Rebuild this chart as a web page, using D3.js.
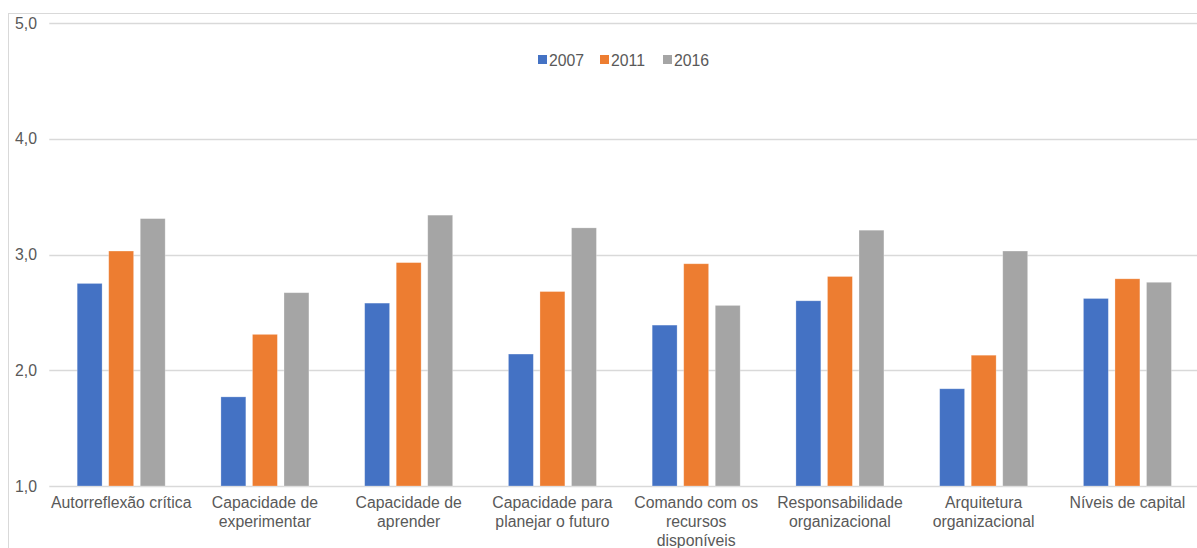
<!DOCTYPE html>
<html><head><meta charset="utf-8">
<script src="https://cdn.jsdelivr.net/npm/d3@7"></script>
<style>
html,body{margin:0;padding:0;background:#fff;overflow:hidden;}
text{font-family:"Liberation Sans",Arial,sans-serif;}
</style></head>
<body>
<svg id="chart" width="1197" height="548"></svg>
<script>
const categories = ["Autorreflexão crítica","Capacidade de experimentar","Capacidade de aprender","Capacidade para planejar o futuro","Comando com os recursos disponíveis","Responsabilidade organizacional","Arquitetura organizacional","Níveis de capital"];
const seriesNames = ["2007","2011","2016"];
const values2007 = [2.75,1.77,2.58,2.14,2.39,2.60,1.84,2.62];
const values2011 = [3.03,2.31,2.93,2.68,2.92,2.81,2.13,2.79];
const values2016 = [3.31,2.67,3.34,3.23,2.56,3.21,3.03,2.76];
const yTicks = [1,2,3,4,5];
const colors = ["#4472C4","#ED7D31","#A5A5A5"];

const series = [values2007, values2011, values2016];
const svg = d3.select("#chart");
const W = 1197, H = 548;
const plotLeft = 49.3, plotRight = 1199.3, plotTop = 23, plotBottom = 486;
const fontSize = "15.8px";

// chart border
svg.append("rect").attr("x",8.5).attr("y",13.5).attr("width",1300).attr("height",600)
  .attr("fill","none").attr("stroke","#D9D9D9").attr("stroke-width",1);

const x = d3.scaleBand().domain(categories).range([plotLeft,plotRight]).paddingInner(0).paddingOuter(0);
const y = d3.scaleLinear().domain([1,5]).range([plotBottom,plotTop]);
const groupW = 88;
const x1 = d3.scaleBand().domain(seriesNames).range([0,groupW]).paddingInner(0.21).paddingOuter(0);

// gridlines
svg.append("g").selectAll("line").data(yTicks).join("line")
  .attr("x1",plotLeft).attr("x2",W+10)
  .attr("y1",d=>Math.round(y(d))+0.5).attr("y2",d=>Math.round(y(d))+0.5)
  .attr("stroke","#D9D9D9").attr("stroke-width",1.5);

// y axis labels
const yAxis = d3.axisLeft(y).tickValues(yTicks).tickSize(0).tickPadding(0)
  .tickFormat(d=>d3.format(".1f")(d).replace(".",","));
const ya = svg.append("g").attr("transform",`translate(37,0)`).call(yAxis);
ya.select(".domain").remove();
ya.selectAll("text").attr("fill","#595959").style("font-size",fontSize)
  .style("font-family","'Liberation Sans',Arial,sans-serif");

// bars
const groups = svg.append("g").selectAll("g").data(categories).join("g")
  .attr("transform",(d)=>`translate(${x(d)+x.bandwidth()/2-groupW/2},0)`);
groups.selectAll("rect").data((c,i)=>seriesNames.map((s,j)=>({s,v:series[j][i],j}))).join("rect")
  .attr("x",d=>x1(d.s)).attr("width",x1.bandwidth())
  .attr("y",d=>y(d.v)).attr("height",d=>y(1)-y(d.v))
  .attr("fill",d=>colors[d.j])
  .attr("stroke","rgba(255,255,255,0.35)").attr("stroke-width",0.75);

// x axis labels (wrapped)
const xAxis = d3.axisBottom(x).tickSize(0).tickPadding(0);
const xa = svg.append("g").attr("transform",`translate(0,${plotBottom})`).call(xAxis);
xa.select(".domain").remove();
xa.selectAll("text").attr("fill","#595959").style("font-size",fontSize)
  .style("font-family","'Liberation Sans',Arial,sans-serif")
  .attr("dy",null).attr("y",0)
  .each(function(d){
    const t = d3.select(this);
    const words = d.split(" ");
    t.text(null);
    let line = [], lineNo = 0;
    let ts = t.append("tspan").attr("x",0).attr("y",22);
    for (const w of words){
      line.push(w);
      ts.text(line.join(" "));
      if (ts.node().getComputedTextLength() > 143 && line.length>1){
        line.pop(); ts.text(line.join(" "));
        line=[w]; lineNo++;
        ts = t.append("tspan").attr("x",0).attr("y",22+lineNo*19).text(w);
      }
    }
  });

// legend
const legendX = [538,600,663];
const lg = svg.append("g").selectAll("g").data(seriesNames).join("g")
  .attr("transform",(d,i)=>`translate(${legendX[i]},0)`);
lg.append("rect").attr("x",0).attr("y",55).attr("width",9).attr("height",9).attr("fill",(d,i)=>colors[i]);
lg.append("text").attr("x",11).attr("y",65.5).text(d=>d)
  .attr("fill","#595959").style("font-size",fontSize);
</script>
</body></html>
